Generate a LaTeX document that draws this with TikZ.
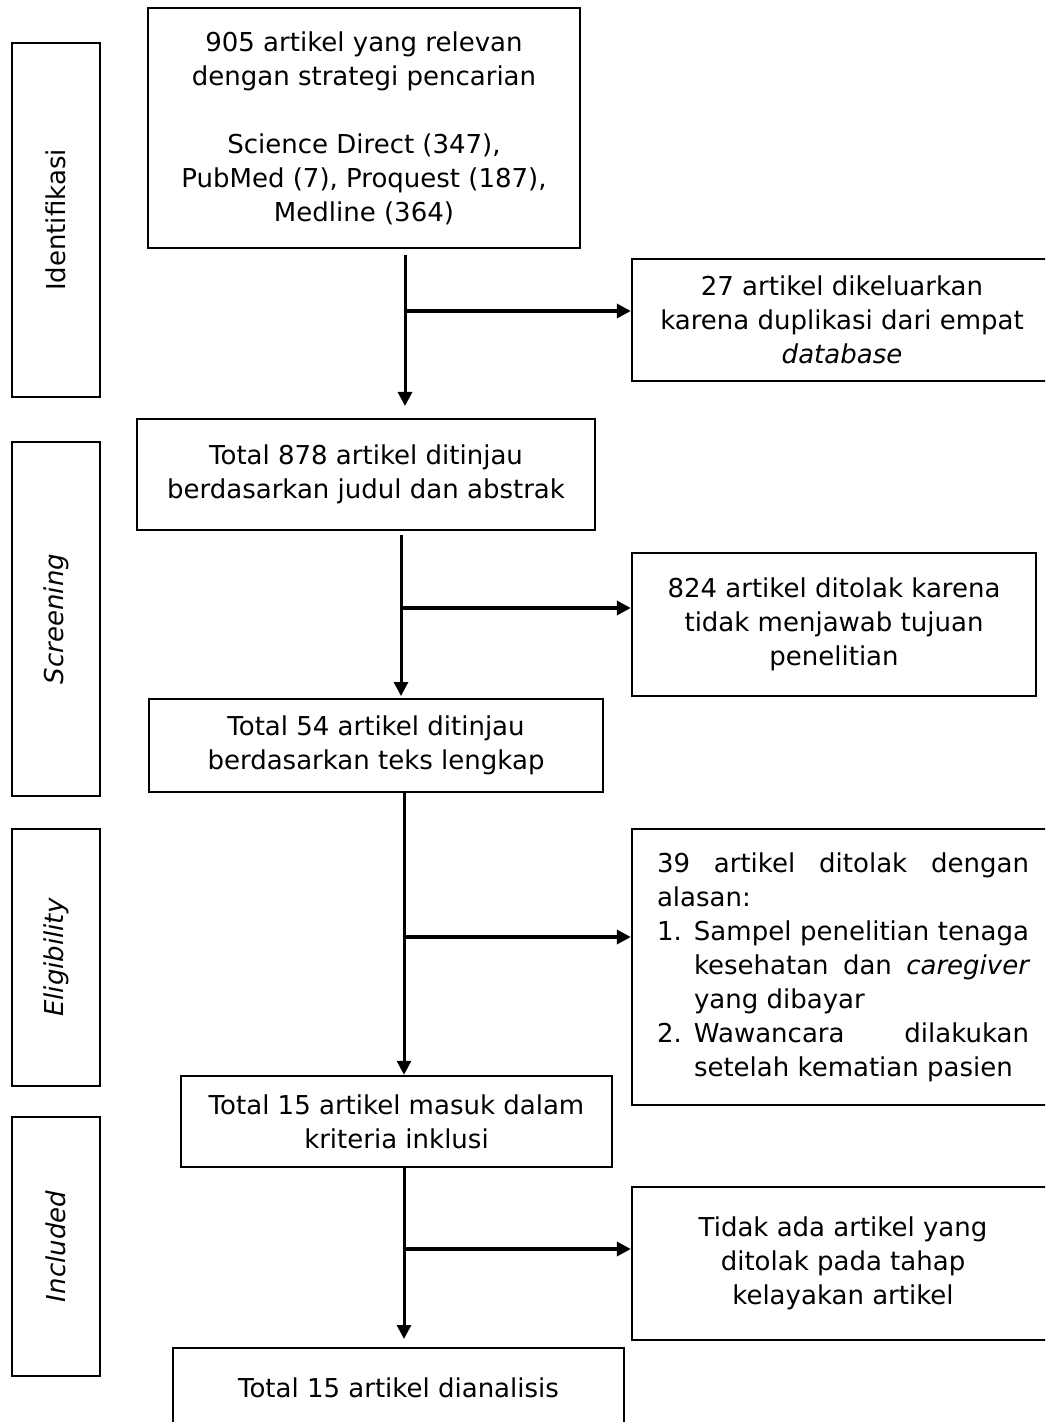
\documentclass[tikz,border=0pt]{standalone}
\usepackage{fontspec}
\setmainfont{DejaVu Sans}
\usetikzlibrary{arrows.meta}
\tikzstyle{Box}=[draw,line width=1.2pt,inner sep=0pt,align=center,
font=\fontsize{13pt}{17pt}\selectfont]
\tikzstyle{SideBox}=[Box,rotate=90,minimum height=44pt]
\tikzstyle{Flow}=[line width=1.5pt,-{Triangle[length=7pt,width=7pt]}]
\tikzstyle{Branch}=[Flow,line width=1.7pt]

\begin{document}
\begin{tikzpicture}[x=0.5pt,y=-0.5pt]
        \useasboundingbox(0,0)rectangle(1045,1422);
        \clip(0,0)rectangle(1045,1422);
        % phases
        \node[SideBox,minimum width=177pt](id)at(56,220){Identifikasi};
        \node[SideBox,minimum width=177pt](sc)at(56,619){\textit{Screening}};
        \node[SideBox,minimum width=128.5pt](el)at(56,957.5)
            {\textit{Eligibility}};
        \node[SideBox,minimum width=129.5pt](in)at(56,1246.5)
            {\textit{Included}};
        % main column
        \node[Box,minimum width=216pt,minimum height=120pt](found)at(364,128)
            {905 artikel yang relevan\\dengan strategi pencarian\\[17pt]
            Science Direct (347),\\PubMed (7), Proquest (187),\\Medline (364)};
        \node[Box,minimum width=229pt,minimum height=55.5pt](title)
            at(366,474.5){Total 878 artikel ditinjau\\berdasarkan judul dan abstrak};
        \node[Box,minimum width=227pt,minimum height=46.5pt](full)
            at(376,745.5){Total 54 artikel ditinjau\\berdasarkan teks lengkap};
        \node[Box,minimum width=215.5pt,minimum height=45.5pt](incl)
            at(396.5,1121.5){Total 15 artikel masuk dalam\\kriteria inklusi};
        \node[Box,minimum width=225.5pt,minimum height=40pt](anal)
            at(398.5,1388){Total 15 artikel dianalisis};
        % excluded
        \node[Box,minimum width=210pt,minimum height=61pt](dup)at(842,320)
            {27 artikel dikeluarkan\\karena duplikasi dari empat\\\textit{database}};
        \node[Box,minimum width=202pt,minimum height=71.5pt](rej1)
            at(834,624.5){824 artikel ditolak karena\\tidak menjawab tujuan\\penelitian};
        \node[Box,minimum width=211pt,minimum height=138pt,text width=186pt,
            align=justify](rej2)at(843,967){\parindent=0pt\hyphenpenalty=10000
            \tolerance=10000 39 artikel ditolak dengan alasan:\par
            \hangindent=18.5pt\hangafter=1\noindent\makebox[18.5pt][l]{1.}Sampel
            penelitian tenaga kesehatan dan \textit{caregiver} yang dibayar\par
            \hangindent=18.5pt\hangafter=1\noindent\makebox[18.5pt][l]{2.}Wawancara
            dilakukan setelah kematian pasien\par};
        \node[Box,minimum width=211pt,minimum height=76.5pt](rej3)
            at(843,1263.5){Tidak ada artikel yang\\ditolak pada tahap\\kelayakan artikel};
        % trunk points
        \coordinate(t1)at(405,255);
        \coordinate(h1)at(405,406);
        \coordinate(j1)at(405,311);
        \coordinate(t2)at(401,535);
        \coordinate(h2)at(401,696);
        \coordinate(j2)at(401,608);
        \coordinate(j3)at(404,937);
        \coordinate(j4)at(404,1249);
        \coordinate(h4)at(404,1339);
        \draw[Flow](t1)--(h1);
        \draw[Branch](j1)--(j1-|dup.west);
        \draw[Flow](t2)--(h2);
        \draw[Branch](j2)--(j2-|rej1.west);
        \draw[Flow](j3|-full.south)--(j3|-incl.north);
        \draw[Branch](j3)--(j3-|rej2.west);
        \draw[Flow](j4|-incl.south)--(h4);
        \draw[Branch](j4)--(j4-|rej3.west);
    \end{tikzpicture}
\end{document}
